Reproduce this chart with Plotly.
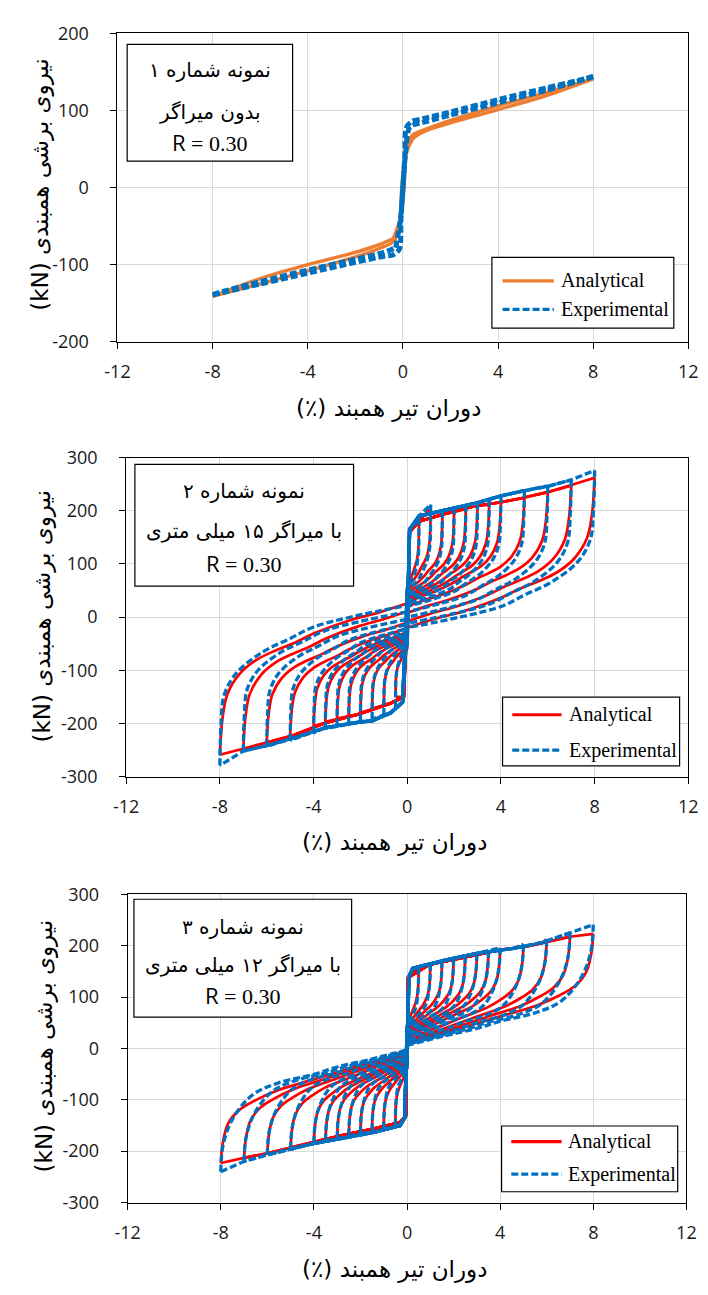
import plotly.graph_objects as go

FIG_W, FIG_H = 708, 1295

# ---------------- data ----------------
AMPS = [0.5, 1, 1.5, 2, 2.5, 3, 3.5, 4, 5, 6, 7, 8]          # drift amplitudes (%)

# Specimen 1 (no damper) - traced paths (None splits branches)
S1_ANA_X = [-0.4, -0.1, 0.05, 0.15, 0.4, 1, 2, 4, 6, 8, None,
            8, 6, 4, 2, 1, 0.45, 0.1, -0.05, -0.15, -0.4, -1, -2, -4, -6, -8, None,
            -8, -6, -4, -2, -1, -0.4]
S1_ANA_Y = [-66, -40, 0, 50, 68, 76, 87, 106, 123, 141, None,
            141, 119, 101, 84, 74, 64, 40, 0, -50, -70, -79, -90, -108, -125, -141, None,
            -141, -118, -100, -84, -74, -66]
S1_EXP_X = [-0.3, -0.1, 0.0, 0.08, 0.15, 0.4, 0.8, 2, 4, 6, 7.5, 8, None,
            8, 7.6, 6, 4, 2, 0.8, 0.3, 0.1, 0.0, -0.08, -0.15, -0.4, -0.8, -2, -4, -6, -8, None,
            -8, -7.6, -6, -4, -2, -0.8, -0.3]
S1_EXP_Y = [-78, -40, 0, 40, 78, 86, 89, 98, 114, 129, 140, 144, None,
            144, 140, 126, 110, 94, 84, 79, 40, 0, -40, -80, -87, -89, -97, -111, -125, -139, None,
            -139, -135, -122, -107, -93, -84, -78]

# Specimen 2 (15 mm damper)
S2_ANA_POS_PEAK = [182, 205, 192, 198, 203, 207, 211, 216, 224, 235, 247, 262]
S2_ANA_NEG_PEAK = [-150, -164, -172, -180, -186, -191, -197, -205, -224, -236, -248, -259]
S2_ANA_END_POS = [60, 55, 50, 45, 40, 36, 32, 28, 20, 8, -8, -20]
S2_ANA_END_NEG = [-60, -55, -50, -45, -40, -36, -32, -28, -20, -10, 11, 26]
S2_ANA_ENV_POS_X = [0.1, 0.5, 1.5, 2.9, 4, 4.9, 6, 6.9]
S2_ANA_ENV_POS_Y = [160, 180, 193, 209, 216, 224, 235, 247]
S2_ANA_ENV_NEG_X = [-0.15, -0.7, -2.1, -3.5, -4.9, -6, -7]
S2_ANA_ENV_NEG_Y = [-150, -162, -183, -199, -223, -236, -248]
S2_ANA_SHAPE_S = [0, 0.014, 0.04, 0.11, 0.2, 0.3, 0.4, 0.5, 0.7, 0.85, 1]
S2_ANA_SHAPE_G = [0, 0.24, 0.4, 0.54, 0.63, 0.69, 0.74, 0.8, 0.89, 0.94, 1]

S2_EXP_POS_PEAK = [185, 212, 200, 205, 210, 215, 220, 228, 238, 247, 258, 276]
S2_EXP_NEG_PEAK = [-170, -185, -192, -196, -200, -204, -210, -218, -232, -243, -252, -279]
S2_EXP_END_POS = [55, 50, 45, 40, 35, 30, 25, 20, 10, 0, -12, -20]
S2_EXP_END_NEG = [-55, -50, -45, -40, -36, -32, -28, -22, -14, -4, 10, 22]
S2_EXP_ENV_POS_X = [0.1, 0.5, 1.5, 2.9, 4, 5, 6, 7]
S2_EXP_ENV_POS_Y = [165, 190, 200, 214, 228, 238, 246, 258]
S2_EXP_ENV_NEG_X = [-0.2, -0.7, -1.5, -2.1, -3.5, -4.9, -6, -7]
S2_EXP_ENV_NEG_Y = [-160, -180, -195, -198, -208, -228, -242, -252]
S2_EXP_SHAPE_S = [0, 0.006, 0.023, 0.09, 0.23, 0.37, 0.5, 0.71, 1]
S2_EXP_SHAPE_G = [0, 0.25, 0.44, 0.58, 0.71, 0.79, 0.865, 0.93, 1]

# Specimen 3 (12 mm damper)
S3_ANA_POS_PEAK = [160, 163, 168, 173, 177, 182, 187, 192, 198, 207, 217, 223]
S3_ANA_NEG_PEAK = [-147, -152, -157, -162, -166, -171, -177, -182, -193, -204, -213, -223]
S3_ANA_END_POS = [45, 42, 38, 34, 30, 27, 24, 20, 15, 11, 8, 6]
S3_ANA_END_NEG = [-40, -36, -32, -28, -24, -20, -17, -14, -10, -7, -5, -3]
S3_ANA_ENV_POS_X = [0.05, 0.94, 2.34, 4, 5.1, 6, 6.9]
S3_ANA_ENV_POS_Y = [138, 163, 176, 192, 198, 207, 217]
S3_ANA_ENV_NEG_X = [-0.05, -0.3, -1.4, -2.8, -4, -4.9, -6, -7]
S3_ANA_ENV_NEG_Y = [-131, -144, -156, -169, -182, -192, -204, -213]
S3_ANA_SHAPE_S = [0, 0.012, 0.04, 0.1, 0.18, 0.3, 0.5, 0.7, 0.87, 1]
S3_ANA_SHAPE_G = [0, 0.19, 0.35, 0.47, 0.55, 0.64, 0.74, 0.84, 0.92, 1]

S3_EXP_POS_PEAK = [158, 165, 170, 175, 180, 185, 190, 196, 203, 212, 225, 241]
S3_EXP_NEG_PEAK = [-150, -156, -160, -165, -170, -175, -180, -185, -196, -207, -220, -240]
S3_EXP_END_POS = [45, 42, 38, 34, 30, 27, 24, 20, 15, 10, 8, 6]
S3_EXP_END_NEG = [-40, -36, -32, -28, -24, -20, -17, -14, -10, -7, -5, -3]
S3_EXP_ENV_POS_X = [0.08, 0.25, 1.64, 3.0, 4.6, 5.8, 7.2]
S3_EXP_ENV_POS_Y = [140, 156, 172, 185, 195, 206, 228]
S3_EXP_ENV_NEG_X = [-0.1, -0.3, -1.4, -2.8, -4, -4.9, -6, -7]
S3_EXP_ENV_NEG_Y = [-135, -150, -163, -175, -185, -195, -207, -220]
S3_EXP_SHAPE_S = [0, 0.014, 0.066, 0.17, 0.31, 0.5, 0.625, 0.795, 1]
S3_EXP_SHAPE_G = [0, 0.23, 0.44, 0.63, 0.73, 0.80, 0.86, 0.92, 1]

X_TICKS = [-12, -8, -4, 0, 4, 8, 12]
X_TICK_TEXT = ["-12", "-8", "-4", "0", "4", "8", "12"]
Y_TICKS_1 = [-200, -100, 0, 100, 200]
Y_TICK_TEXT_1 = ["-200", "-100", "0", "100", "200"]
Y_TICKS_23 = [-300, -200, -100, 0, 100, 200, 300]
Y_TICK_TEXT_23 = ["-300", "-200", "-100", "0", "100", "200", "300"]
X_TITLE = "(٪) دوران تیر همبند"
Y_TITLE = "(kN) نیروی برشی همبندی"
BOX_TEXT = [
    ["نمونه شماره ۱", "بدون میراگر"],
    ["نمونه شماره ۲", "با میراگر ۱۵ میلی متری"],
    ["نمونه شماره ۳", "با میراگر ۱۲ میلی متری"],
]
R_TEXT = "0.30"
SERIES_NAMES = ["Analytical", "Experimental"]

ORANGE = "#ED7D31"
RED = "#FF0000"
BLUE = "#0070C0"
DASH = "7px,3px"


def loop_paths(amps, pos_peak, neg_peak, end_pos, end_neg,
               env_px, env_py, env_nx, env_ny, shape_s, shape_g):
    """Assemble reloading (envelope) and unloading branches of each cycle."""
    rx, ry, ux, uy = [], [], [], []
    prev_end = 0
    for a, fp, fn, ep, en in zip(amps, pos_peak, neg_peak, end_pos, end_neg):
        # reload toward + peak along the envelope
        rx += [0] + [x for x in env_px if x < a * 0.97] + [a, None]
        ry += [prev_end] + [y for x, y in zip(env_px, env_py) if x < a * 0.97] + [fp, None]
        # unload from + peak back to zero drift
        ux += [a * (1 - s) for s in shape_s] + [None]
        uy += [fp - (fp - ep) * g for g in shape_g] + [None]
        # reload toward - peak
        rx += [0] + [x for x in env_nx if -x < a * 0.97] + [-a, None]
        ry += [ep] + [y for x, y in zip(env_nx, env_ny) if -x < a * 0.97] + [fn, None]
        # unload from - peak back to zero drift
        ux += [-a * (1 - s) for s in shape_s] + [None]
        uy += [fn - (fn - en) * g for g in shape_g] + [None]
        prev_end = en
    return rx, ry, ux, uy


fig = go.Figure()

# panel geometry in pixels: (left, right, top, bottom)
PANELS = [(108, 698, 20.7, 335), (117, 698, 453, 778), (118.5, 696, 898, 1212)]
Y_RANGES = [[-200, 200], [-300, 300], [-300, 300]]


def px_x(v):
    return v / FIG_W


def px_y(v):
    return 1 - v / FIG_H


# ---- panel 1 ----
fig.add_trace(go.Scatter(x=S1_ANA_X, y=S1_ANA_Y, mode="lines", xaxis="x", yaxis="y",
                         line=dict(color=ORANGE, width=3.4, shape="spline", smoothing=0.8),
                         name=SERIES_NAMES[0], showlegend=False))
fig.add_trace(go.Scatter(x=S1_EXP_X, y=S1_EXP_Y, mode="lines", xaxis="x", yaxis="y",
                         line=dict(color=BLUE, width=5, dash=DASH, shape="spline", smoothing=0.8),
                         name=SERIES_NAMES[1], showlegend=False))

# ---- panels 2 and 3 ----
specs = [
    ("2", (AMPS, S2_ANA_POS_PEAK, S2_ANA_NEG_PEAK, S2_ANA_END_POS, S2_ANA_END_NEG,
           S2_ANA_ENV_POS_X, S2_ANA_ENV_POS_Y, S2_ANA_ENV_NEG_X, S2_ANA_ENV_NEG_Y,
           S2_ANA_SHAPE_S, S2_ANA_SHAPE_G),
          (AMPS, S2_EXP_POS_PEAK, S2_EXP_NEG_PEAK, S2_EXP_END_POS, S2_EXP_END_NEG,
           S2_EXP_ENV_POS_X, S2_EXP_ENV_POS_Y, S2_EXP_ENV_NEG_X, S2_EXP_ENV_NEG_Y,
           S2_EXP_SHAPE_S, S2_EXP_SHAPE_G)),
    ("3", (AMPS, S3_ANA_POS_PEAK, S3_ANA_NEG_PEAK, S3_ANA_END_POS, S3_ANA_END_NEG,
           S3_ANA_ENV_POS_X, S3_ANA_ENV_POS_Y, S3_ANA_ENV_NEG_X, S3_ANA_ENV_NEG_Y,
           S3_ANA_SHAPE_S, S3_ANA_SHAPE_G),
          (AMPS, S3_EXP_POS_PEAK, S3_EXP_NEG_PEAK, S3_EXP_END_POS, S3_EXP_END_NEG,
           S3_EXP_ENV_POS_X, S3_EXP_ENV_POS_Y, S3_EXP_ENV_NEG_X, S3_EXP_ENV_NEG_Y,
           S3_EXP_SHAPE_S, S3_EXP_SHAPE_G)),
]
for k, ana, exp in specs:
    for data, color, width, dash, name in [(ana, RED, 2.7, "solid", SERIES_NAMES[0]),
                                           (exp, BLUE, 3.3, DASH, SERIES_NAMES[1])]:
        rx, ry, ux, uy = loop_paths(*data)
        fig.add_trace(go.Scatter(x=rx, y=ry, mode="lines", xaxis="x" + k, yaxis="y" + k,
                                 line=dict(color=color, width=width, dash=dash),
                                 name=name, showlegend=False))
        fig.add_trace(go.Scatter(x=ux, y=uy, mode="lines", xaxis="x" + k, yaxis="y" + k,
                                 line=dict(color=color, width=width, dash=dash,
                                           shape="spline", smoothing=1.0),
                                 name=name, showlegend=False))

# ---- axes ----
tick_font = dict(family="Open Sans, Liberation Sans, sans-serif", size=18, color="#1a1a1a")
layout = dict(width=FIG_W, height=FIG_H, autosize=False,
              margin=dict(l=0, r=0, t=0, b=0),
              paper_bgcolor="white", plot_bgcolor="white", showlegend=False)
for i, (l, r, t, b) in enumerate(PANELS):
    sfx = "" if i == 0 else str(i + 1)
    common = dict(showline=True, linecolor="#000000", linewidth=1, mirror=True,
                  ticks="outside", ticklen=6, tickcolor="#000000",
                  showgrid=True, gridcolor="#D9D9D9", gridwidth=1, zeroline=False,
                  tickfont=tick_font, fixedrange=True)
    yt = (Y_TICKS_1, Y_TICK_TEXT_1) if i == 0 else (Y_TICKS_23, Y_TICK_TEXT_23)
    layout["xaxis" + sfx] = dict(domain=[px_x(l), px_x(r)], anchor="y" + sfx,
                                 range=[-12, 12], tickvals=X_TICKS, ticktext=X_TICK_TEXT,
                                 ticklabelstandoff=8, **common)
    layout["yaxis" + sfx] = dict(domain=[px_y(b), px_y(t)], anchor="x" + sfx,
                                 range=Y_RANGES[i], tickvals=yt[0], ticktext=yt[1],
                                 ticklabelstandoff=18, **common)
fig.update_layout(**layout)

# ---- text, boxes, legends ----
fa_font = dict(family="DejaVu Sans, sans-serif", size=20, color="#000000")
serif = dict(family="Liberation Serif, Times New Roman, serif", size=20, color="#000000")

X_TITLE_POS = [(388, 403), (394, 845), (394, 1280)]
Y_TITLE_POS = [(29, 175), (31, 615), (33, 1053)]
BOXES = [(118, 289, 32, 151), (126, 352, 460, 584), (125, 350, 903, 1023)]
BOX_LINES_Y = [(58, 101, 131), (487, 528, 560), (931, 970, 1001)]
LEGENDS = [(495, 683, 249, 321, 273, 302, 506, 559, 564),
           (506, 689, 697, 767, 715, 751, 516, 567, 573),
           (505, 687, 1134, 1201, 1150, 1183, 515, 567, 572)]
ANA_COLORS = [ORANGE, RED, RED]

shapes, annos = [], []
for i in range(3):
    xt, yt = X_TITLE_POS[i]
    annos.append(dict(x=px_x(xt), y=px_y(yt), xref="paper", yref="paper", text=X_TITLE,
                      showarrow=False, font=dict(fa_font, size=23),
                      xanchor="center", yanchor="middle"))
    xt, yt = Y_TITLE_POS[i]
    annos.append(dict(x=px_x(xt), y=px_y(yt), xref="paper", yref="paper", text=Y_TITLE,
                      showarrow=False, textangle=-90, font=dict(fa_font, size=23),
                      xanchor="center", yanchor="middle"))
    # description box
    x0, x1, y0, y1 = BOXES[i]
    shapes.append(dict(type="rect", xref="paper", yref="paper",
                       x0=px_x(x0), x1=px_x(x1), y0=px_y(y1), y1=px_y(y0),
                       line=dict(color="#000000", width=1.2), fillcolor="white"))
    cx = (x0 + x1) / 2
    ly = BOX_LINES_Y[i]
    for j, txt in enumerate(BOX_TEXT[i]):
        annos.append(dict(x=px_x(cx), y=px_y(ly[j]), xref="paper", yref="paper", text=txt,
                          showarrow=False, font=fa_font, xanchor="center", yanchor="middle"))
    annos.append(dict(x=px_x(cx), y=px_y(ly[2]), xref="paper", yref="paper",
                      text='<span style="font-family:Open Sans">R</span> = ' + R_TEXT,
                      showarrow=False, font=dict(serif, size=22),
                      xanchor="center", yanchor="middle"))
    # legend
    lx0, lx1, ly0, ly1, yA, yE, sx0, sx1, tx = LEGENDS[i]
    shapes.append(dict(type="rect", xref="paper", yref="paper",
                       x0=px_x(lx0), x1=px_x(lx1), y0=px_y(ly1), y1=px_y(ly0),
                       line=dict(color="#000000", width=1.2), fillcolor="white"))
    shapes.append(dict(type="line", xref="paper", yref="paper",
                       x0=px_x(sx0), x1=px_x(sx1), y0=px_y(yA), y1=px_y(yA),
                       line=dict(color=ANA_COLORS[i], width=3.2)))
    shapes.append(dict(type="line", xref="paper", yref="paper",
                       x0=px_x(sx0), x1=px_x(sx1), y0=px_y(yE), y1=px_y(yE),
                       line=dict(color=BLUE, width=3.2, dash=DASH)))
    for yy, nm in [(yA, SERIES_NAMES[0]), (yE, SERIES_NAMES[1])]:
        annos.append(dict(x=px_x(tx), y=px_y(yy), xref="paper", yref="paper", text=nm,
                          showarrow=False, font=serif, xanchor="left", yanchor="middle"))

fig.update_layout(shapes=shapes, annotations=annos)
fig.write_html("out.html")
